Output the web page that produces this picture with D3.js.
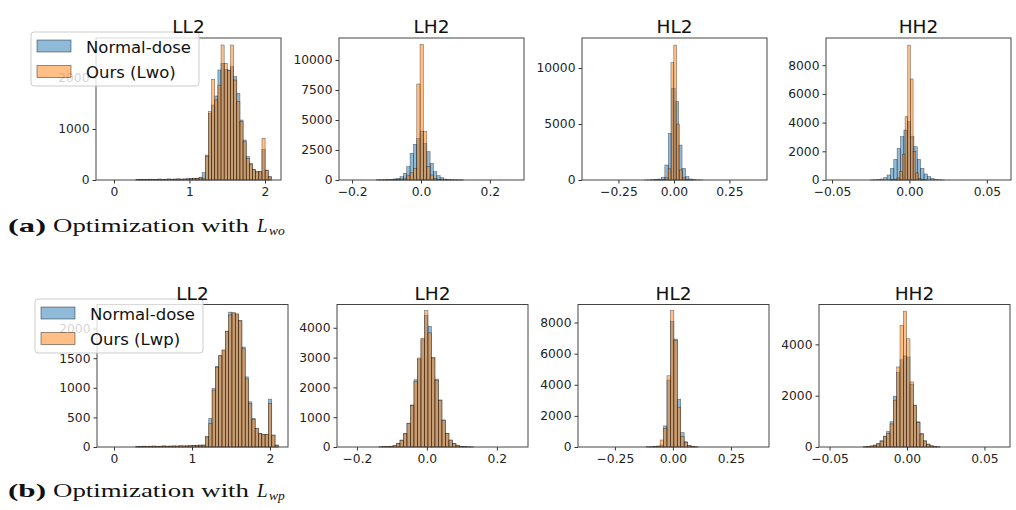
<!DOCTYPE html>
<html>
<head>
<meta charset="utf-8">
<script src="https://cdn.jsdelivr.net/npm/d3@7"></script>
<style>
  body { margin: 0; background: #fff; }
  svg { display: block; }
  text { font-family: "DejaVu Sans", sans-serif; }
</style>
</head>
<body>
<svg id="fig" width="1016" height="510"></svg>
<script>
// subbands and labels
var subbands = ["LL2", "LH2", "HL2", "HH2"];
var legendA = ["Normal-dose", "Ours (Lwo)"];
var legendB = ["Normal-dose", "Ours (Lwp)"];

// x ticks per subband
var xTicks = [[0, 1, 2], [-0.2, 0, 0.2], [-0.25, 0, 0.25], [-0.05, 0, 0.05]];
var xFormats = ["d", ".1f", ".2f", ".2f"];

// axis limits
var xLimA = [[-0.238, 2.212], [-0.238, 0.299], [-0.414, 0.419], [-0.0539, 0.0656]];
var xLimB = [[-0.218, 2.231], [-0.257, 0.289], [-0.409, 0.414], [-0.0568, 0.0665]];
var yMaxA = [2784, 11833, 12680, 9895];
var yMaxB = [2407, 4781, 9160, 5553];
var yTicksA = [[0, 1000, 2000], [0, 2500, 5000, 7500, 10000], [0, 5000, 10000], [0, 2000, 4000, 6000, 8000]];
var yTicksB = [[0, 500, 1000, 1500, 2000], [0, 1000, 2000, 3000, 4000], [0, 2000, 4000, 6000, 8000], [0, 2000, 4000]];

// histogram bins: [first edge, bin width]
var binsA_N = [[0.0, 0.0417], [-0.1287, 0.0097], [-0.134, 0.0155], [-0.02531, 0.00217]];
var binsA_O = [[0.0, 0.0417], [-0.1287, 0.0097], [-0.0903, 0.0128], [-0.0132, 0.00173]];
var binsB_N = [[0.025, 0.0425], [-0.137, 0.01], [-0.1144, 0.0148], [-0.02815, 0.00215]];
var binsB_O = [[0.025, 0.0425], [-0.137, 0.01], [-0.1144, 0.0148], [-0.02815, 0.00215]];

// (a) counts
var normalLLa = [0,0,0,0,0,0,0,8,14,10,12,16,10,14,18,12,16,20,15,18,22,16,20,24,28,30,36,55,
  144,490,1307,1470,1647,2157,2288,2170,2157,2222,2026,1700,1176,784,457,327,209,163,163,600,196,65];
var oursLLa = [0,0,0,0,0,0,0,6,12,12,10,14,12,12,16,14,14,18,16,16,20,18,18,22,26,28,32,40,
  30,457,1340,1974,1570,1860,2647,2288,2150,2647,1960,1536,1144,750,425,310,200,160,160,817,190,60];
var normalLHa = [10,15,25,35,60,90, 140,280,555,1110,2222,2970,3470,4080,3055,2360,1390,695,360,195,80, 40,25,15,10,5];
var oursLHa = [5,8,12,18,25,30, 40,80,150,350,600,970,8000,11300,4030,1110,420,140,60,30,15, 8,5,3,2,1];
var normalHLa = [10,20,30,50, 90,250,1340,4170,8180,7000,3120,1040,300,90, 40,20,10];
var oursHLa = [5,10,20, 50,200,1000,10480,12050,5000,900,200,50, 20,8];
var normalHHa = [10,20,35, 70,160,350,810,1440,2200,3020,3480,4070,3020,2320,1440,810,420,230,115,45, 20,10];
var oursHHa = [10,30,60, 150,600,1800,4410,9400,7040,2000,500,120, 40,15];

// (b) counts
var normalLLb = [0,0,0,0,0,0,8,12,14,10,14,16,12,14,18,14,16,18,16,20,18,20,22,26,30,34,
  34,174,482,987,1363,1548,1632,1958,2278,2261,2240,2137,1689,1184,763,482,314,230,213,213,808,202,34];
var oursLLb = [0,0,0,0,0,0,6,10,12,12,12,14,12,12,16,14,14,16,16,18,18,18,20,24,28,30,
  30,170,400,960,1340,1540,1640,1950,2230,2270,2250,2130,1660,1150,730,470,310,225,210,210,735,200,30];
var normalLHb = [8,12,18,25, 45,120,235,460,800,1410,2255,2950,3600,4420,4050,3000,2280,1580,910,460,235,120,60,25, 12,6,3];
var oursLHb = [8,12,18,25, 40,110,220,440,790,1400,2200,2985,3650,4578,3830,2985,2230,1560,890,450,230,115,55,20, 12,6,3];
var normalHLb = [8,15,30, 60,130,1355,4300,8080,6940,3075,925,340,100, 30,10];
var oursHLb = [8,15,30, 50,450,1200,4580,8770,6860,2560,670,300,80, 30,10];
var normalHHb = [10,20,40, 78,142,246,427,600,983,1980,2900,3400,3550,3506,2450,1630,983,530,246,116,50, 20,8];
var oursHHb = [10,20,40, 60,120,220,400,530,900,1825,3119,4736,5293,4218,2536,1630,950,500,230,110,45, 20,8];

var fig = d3.select("#fig");

var rows = [
  {top: 38, bottom: 180, lefts: [96, 339, 582, 826], w: 185, titleY: 33,
   xLim: xLimA, yMax: yMaxA, yTicks: yTicksA, binsN: binsA_N, binsO: binsA_O,
   N: [normalLLa, normalLHa, normalHLa, normalHHa], O: [oursLLa, oursLHa, oursHLa, oursHHa]},
  {top: 304.5, bottom: 447, lefts: [97, 337, 578, 819], w: 191, titleY: 300,
   xLim: xLimB, yMax: yMaxB, yTicks: yTicksB, binsN: binsB_N, binsO: binsB_O,
   N: [normalLLb, normalLHb, normalHLb, normalHHb], O: [oursLLb, oursLHb, oursHLb, oursHHb]}
];

function toBins(counts, bins) {
  return counts.map(function (c, i) {
    return {x0: bins[0] + i * bins[1], x1: bins[0] + (i + 1) * bins[1], c: c};
  }).filter(function (d) { return d.c > 0; });
}

function drawPanel(row, i) {
  var left = row.lefts[i], right = left + row.w;
  var xs = d3.scaleLinear().domain(row.xLim[i]).range([left, right]);
  var ys = d3.scaleLinear().domain([0, row.yMax[i]]).range([row.bottom, row.top]);
  var g = fig.append("g");

  // histograms: normal-dose first, ours on top
  [[row.N[i], row.binsN[i], "#1f77b4"], [row.O[i], row.binsO[i], "#ff7f0e"]].forEach(function (s) {
    g.append("g").selectAll("rect")
      .data(toBins(s[0], s[1]))
      .join("rect")
      .attr("x", function (d) { return xs(d.x0); })
      .attr("y", function (d) { return ys(d.c); })
      .attr("width", function (d) { return xs(d.x1) - xs(d.x0); })
      .attr("height", function (d) { return ys(0) - ys(d.c); })
      .attr("fill", s[2])
      .attr("fill-opacity", 0.5)
      .attr("stroke", "#000")
      .attr("stroke-opacity", 0.5)
      .attr("stroke-width", 0.6);
  });

  // axes
  var xAxis = g.append("g")
    .attr("transform", "translate(0," + row.bottom + ")")
    .call(d3.axisBottom(xs).tickValues(xTicks[i]).tickFormat(d3.format(xFormats[i])).tickSize(3.5).tickPadding(4));
  var yAxis = g.append("g")
    .attr("transform", "translate(" + left + ",0)")
    .call(d3.axisLeft(ys).tickValues(row.yTicks[i]).tickFormat(d3.format("d")).tickSize(3.5).tickPadding(3));
  [xAxis, yAxis].forEach(function (a) {
    a.select(".domain").remove();
    a.selectAll("line").attr("stroke", "#333");
    a.selectAll("text").attr("fill", "#222").style("font-size", "12.3px").style("font-family", "DejaVu Sans");
  });

  // frame
  g.append("rect")
    .attr("x", left).attr("y", row.top)
    .attr("width", row.w).attr("height", row.bottom - row.top)
    .attr("fill", "none").attr("stroke", "#444").attr("stroke-width", 1);
}

function drawTitle(row, i) {
  var left = row.lefts[i];
  fig.append("text")
    .attr("x", left + row.w / 2).attr("y", row.titleY)
    .attr("text-anchor", "middle")
    .style("font-size", "18.5px").attr("fill", "#111")
    .text(subbands[i]);
}

function drawLegend(box, labels) {
  var g = fig.append("g");
  g.append("rect")
    .attr("x", box.x).attr("y", box.y).attr("width", 168).attr("height", 54).attr("rx", 3)
    .attr("fill", "#fff").attr("fill-opacity", 0.8)
    .attr("stroke", "#ccc").attr("stroke-width", 1);
  var colors = ["#1f77b4", "#ff7f0e"];
  labels.forEach(function (lab, k) {
    g.append("rect")
      .attr("x", box.x + 6).attr("y", box.y + 8 + k * 25.5)
      .attr("width", 34).attr("height", 12)
      .attr("fill", colors[k]).attr("fill-opacity", 0.5)
      .attr("stroke", "#000").attr("stroke-opacity", 0.5).attr("stroke-width", 0.8);
    g.append("text")
      .attr("x", box.x + 55).attr("y", box.y + 20.5 + k * 25)
      .style("font-size", "16.5px").attr("fill", "#111")
      .text(lab);
  });
}

function drawCaption(y, tag, sub) {
  var g = fig.append("g").style("font-family", "'Liberation Serif', 'DejaVu Serif', serif").attr("fill", "#111");
  g.append("text").attr("x", 8).attr("y", y).style("font-size", "19px").style("font-weight", "bold")
    .style("font-family", "inherit").attr("textLength", 38).attr("lengthAdjust", "spacingAndGlyphs").text(tag);
  g.append("text").attr("x", 53).attr("y", y).style("font-size", "19px")
    .style("font-family", "inherit").attr("textLength", 196).attr("lengthAdjust", "spacingAndGlyphs").text("Optimization with");
  g.append("text").attr("x", 257).attr("y", y).style("font-size", "19px").style("font-style", "italic")
    .style("font-family", "inherit").text("L");
  g.append("text").attr("x", 269).attr("y", y + 3).style("font-size", "13.5px").style("font-style", "italic")
    .style("font-family", "inherit").text(sub);
}

rows.forEach(function (row) {
  subbands.forEach(function (s, i) { drawPanel(row, i); });
});
drawLegend({x: 31, y: 32}, legendA);
drawLegend({x: 35, y: 299}, legendB);
rows.forEach(function (row) {
  subbands.forEach(function (s, i) { drawTitle(row, i); });
});
drawCaption(232, "(a)", "wo");
drawCaption(497, "(b)", "wp");
</script>
</body>
</html>
